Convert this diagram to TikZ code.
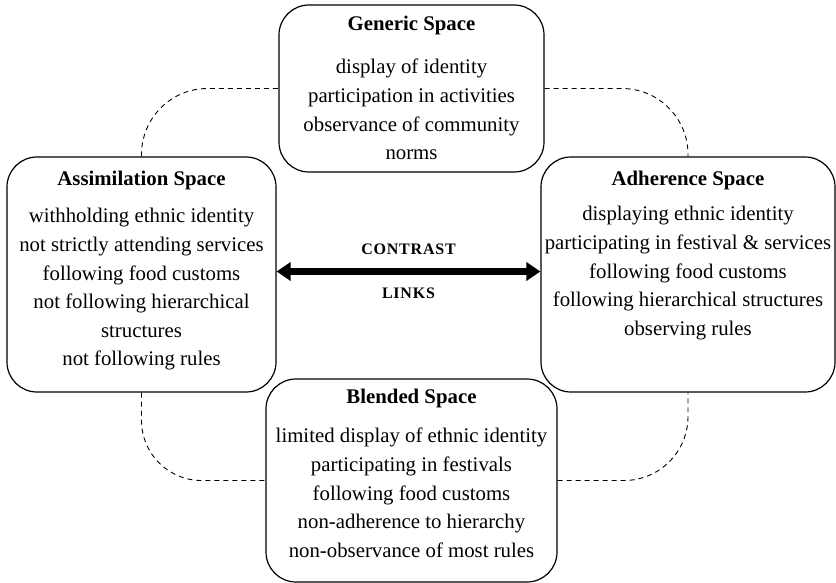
\documentclass[tikz,border=0pt]{standalone}
\usepackage{fontspec}
\setmainfont{Liberation Serif}
\newfontfamily\linkfont[LetterSpace=5]{Liberation Serif}
\usetikzlibrary{arrows.meta, positioning}

\begin{document}
\begin{tikzpicture}[x=0.5pt, y=-0.5pt,
  space/.style={draw, line width=0.6pt, rounded corners=15pt},
  spacetext/.style={align=center, inner sep=0pt, font=\fontsize{10.4}{14.3}\selectfont},
  link/.style={dash pattern=on 2.5pt off 2pt, line width=0.45pt},
  linklabel/.style={inner sep=0pt, font=\linkfont\bfseries\fontsize{8}{9}\selectfont}]
\useasboundingbox (0,0) rectangle (836,583);
\node[space, minimum width=132.5pt, minimum height=83.5pt] (gen) at (411.5,88.5) {};
\node[space, minimum width=134.5pt, minimum height=117.5pt] (assim) at (141.5,274.5) {};
\node[space, minimum width=147pt, minimum height=117.5pt] (adh) at (688,274.5) {};
\node[space, minimum width=145.5pt, minimum height=101.5pt] (blend) at (411.5,480.5) {};
\node[spacetext, below=5.75pt of gen.north] (gentext) {\textbf{Generic Space}\\[7.25pt]display of identity\\participation in activities\\observance of community\\norms};
\node[spacetext, below=7.25pt of assim.north] (assimtext) {\textbf{Assimilation Space}\\[4.25pt]withholding ethnic identity\\not strictly attending services\\following food customs\\not following hierarchical\\structures\\not following rules};
\node[spacetext, below=7.25pt of adh.north] (adhtext) {\textbf{Adherence Space}\\[3.25pt]displaying ethnic identity\\participating in festival \& services\\following food customs\\following hierarchical structures\\observing rules};
\node[spacetext, below=5.25pt of blend.north] (blendtext) {\textbf{Blended Space}\\[5.25pt]limited display of ethnic identity\\participating in festivals\\following food customs\\non-adherence to hierarchy\\non-observance of most rules};
\draw[link, rounded corners=33pt] (assim.north) |- (gen.west);
\draw[link, rounded corners=33pt] (gen.east) -| (adh.north);
\draw[link, rounded corners=30pt] (assim.south) |- (blend.west);
\draw[link, rounded corners=32pt] (blend.east) -| (adh.south);
\draw[line width=3.3pt, {Triangle[length=7pt,width=9pt]}-{Triangle[length=7pt,width=9pt]}] ([yshift=1.5pt]assim.east) -- ([yshift=1.5pt]adh.west)
  node[midway, above=7pt, linklabel] (contrast) {CONTRAST}
  node[midway, below=6.5pt, linklabel] (links) {LINKS};
\end{tikzpicture}
\end{document}
